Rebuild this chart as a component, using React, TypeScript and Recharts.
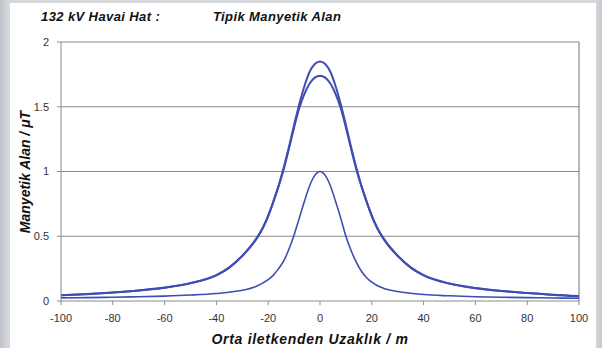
import { LineChart, Line, XAxis, YAxis, CartesianGrid, ReferenceLine } from 'recharts';

// distance from middle conductor (m)
const distances = [-100, -90, -80, -70, -60, -50, -40, -35, -30, -25, -22, -20, -18, -16, -14, -12, -10, -8, -6, -4, -2, 0,
  2, 4, 6, 8, 10, 12, 14, 16, 18, 20, 22, 25, 30, 35, 40, 50, 60, 70, 80, 90, 100];

// upper curve (peak ~1.85)
const fieldHigh = [0.045, 0.054, 0.066, 0.082, 0.104, 0.138, 0.2, 0.26, 0.35, 0.47, 0.57, 0.66, 0.77, 0.89, 1.03, 1.19, 1.36, 1.52, 1.66, 1.77, 1.83, 1.85,
  1.83, 1.77, 1.66, 1.52, 1.36, 1.19, 1.03, 0.89, 0.77, 0.66, 0.57, 0.47, 0.35, 0.26, 0.2, 0.135, 0.1, 0.078, 0.062, 0.048, 0.038];

// middle curve (peak ~1.74)
const fieldMid = [0.044, 0.053, 0.065, 0.081, 0.103, 0.137, 0.198, 0.258, 0.347, 0.466, 0.565, 0.655, 0.765, 0.885, 1.02, 1.175, 1.34, 1.49, 1.6, 1.68, 1.725, 1.74,
  1.725, 1.68, 1.6, 1.49, 1.34, 1.175, 1.02, 0.885, 0.765, 0.655, 0.565, 0.466, 0.347, 0.258, 0.198, 0.134, 0.099, 0.077, 0.061, 0.047, 0.037];

// narrow curve (peak ~1.0)
const fieldLow = [0.024, 0.026, 0.029, 0.033, 0.038, 0.046, 0.058, 0.068, 0.083, 0.11, 0.14, 0.165, 0.2, 0.25, 0.31, 0.4, 0.51, 0.64, 0.77, 0.89, 0.97, 1.0,
  0.97, 0.89, 0.77, 0.64, 0.5, 0.39, 0.3, 0.23, 0.18, 0.145, 0.12, 0.095, 0.073, 0.06, 0.05, 0.04, 0.033, 0.029, 0.026, 0.023, 0.021];

const xTicks = [-100, -80, -60, -40, -20, 0, 20, 40, 60, 80, 100];
const yTicks = [0, 0.5, 1, 1.5, 2];

const data = distances.map((d, i) => ({
  d,
  high: fieldHigh[i],
  mid: fieldMid[i],
  low: fieldLow[i],
}));

const blue = '#3d4db2';
const gray = '#8a8a8a';
const font = '"Liberation Sans", Arial, sans-serif';

export default function App() {
  return (
    <div style={{
      position: 'absolute', left: 0, top: 0, width: 602, height: 348, overflow: 'hidden',
      background: 'linear-gradient(90deg, #bfc3c8 0px, #d8dbde 10px, #ffffff 10px, #ffffff 596px, #d4d7da 596px, #c4c8cc 602px)',
      fontFamily: font,
    }}>
      <div style={{ position: 'absolute', left: 10, top: 0, width: 586, height: 3, background: '#d6d9dc' }} />
      <div style={{ position: 'absolute', left: 41, top: 9, fontSize: 13, fontWeight: 'bold', fontStyle: 'italic', letterSpacing: 0.4, color: '#111', whiteSpace: 'nowrap' }}>
        132 kV Havai Hat :
      </div>
      <div style={{ position: 'absolute', left: 213, top: 9, fontSize: 13, fontWeight: 'bold', fontStyle: 'italic', letterSpacing: 0.4, color: '#111', whiteSpace: 'nowrap' }}>
        Tipik Manyetik Alan
      </div>
      <LineChart width={602} height={348} data={data} margin={{ top: 42, right: 23, bottom: 0, left: 0 }}>
        <CartesianGrid vertical={false} stroke={gray} strokeWidth={1.2} horizontalValues={[0.5, 1, 1.5]} />
        <XAxis
          dataKey="d"
          type="number"
          domain={[-100, 100]}
          ticks={xTicks}
          height={47}
          tickSize={4}
          tickMargin={9}
          stroke={gray}
          tick={{ fill: '#333', fontSize: 11, fontFamily: font }}
        />
        <YAxis
          type="number"
          domain={[0, 2]}
          ticks={yTicks}
          width={61}
          tickSize={4}
          tickMargin={8}
          stroke={gray}
          tick={{ fill: '#333', fontSize: 11, fontFamily: font }}
        />
        <ReferenceLine y={2} stroke={gray} strokeWidth={1.2} />
        <ReferenceLine x={100} stroke={gray} strokeWidth={1.2} />
        <Line dataKey="low" type="monotone" stroke={blue} strokeWidth={1.6} dot={false} isAnimationActive={false} />
        <Line dataKey="mid" type="monotone" stroke={blue} strokeWidth={2} dot={false} isAnimationActive={false} />
        <Line dataKey="high" type="monotone" stroke={blue} strokeWidth={2} dot={false} isAnimationActive={false} />
      </LineChart>
      <div style={{
        position: 'absolute', left: 25, top: 172, transform: 'translate(-50%, -50%) rotate(-90deg)',
        fontSize: 14, fontWeight: 'bold', fontStyle: 'italic', color: '#111', whiteSpace: 'nowrap',
      }}>
        Manyetik Alan / μT
      </div>
      <div style={{
        position: 'absolute', left: 310, top: 339, transform: 'translate(-50%, -50%)',
        fontSize: 14, fontWeight: 'bold', fontStyle: 'italic', color: '#111', whiteSpace: 'nowrap', letterSpacing: 0.7,
      }}>
        Orta iletkenden Uzaklık / m
      </div>
    </div>
  );
}
